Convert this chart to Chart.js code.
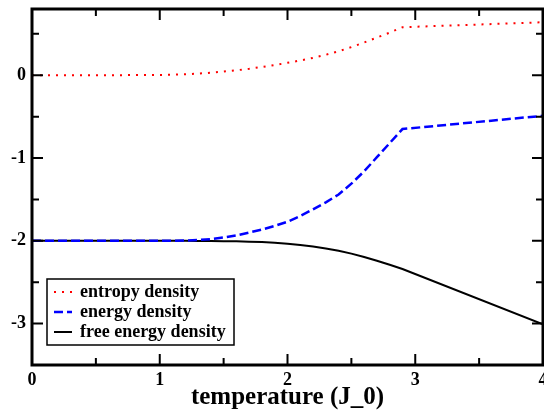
<!DOCTYPE html>
<html lang="en">
<head>
    <meta charset="UTF-8">
    <title>Thermodynamic densities vs temperature</title>
    <style>
        body {
            margin: 0;
            background: #fff;
        }
        canvas {
            display: block;
        }
    </style>
</head>
<body>
    <canvas id="chart" width="544" height="410"></canvas>

    <script src="https://cdn.jsdelivr.net/npm/chart.js"></script>
    <script>
        // Data
        const temps = [0, 0.5, 1.0, 1.1, 1.2, 1.3, 1.4, 1.5, 1.6, 1.7, 1.8, 1.9, 2.0,
                       2.1, 2.2, 2.3, 2.4, 2.5, 2.6, 2.7, 2.8, 2.9, 4.0];
        const entropy = [0, 0, 0.003, 0.006, 0.012, 0.02, 0.03, 0.044, 0.06, 0.078, 0.10, 0.123, 0.15,
                         0.178, 0.21, 0.247, 0.29, 0.34, 0.395, 0.455, 0.515, 0.58, 0.64];
        const energy = [-2, -2, -2, -1.999, -1.997, -1.99, -1.98, -1.96, -1.935, -1.90, -1.865, -1.82, -1.77,
                        -1.70, -1.62, -1.535, -1.44, -1.31, -1.16, -0.99, -0.82, -0.65, -0.49];
        const freeEnergy = [-2, -2, -2, -2, -2, -2.001, -2.002, -2.004, -2.006, -2.01, -2.015, -2.024, -2.035,
                            -2.05, -2.07, -2.093, -2.12, -2.155, -2.195, -2.24, -2.29, -2.34, -3.01];

        const seriesNames = ['entropy density', 'energy density', 'free energy density'];
        const xTicks = [0, 1, 2, 3, 4];
        const xMinor = [0.5, 1.5, 2.5, 3.5];
        const yTicks = [-3, -2, -1, 0];
        const yMinor = [-2.5, -1.5, -0.5, 0.5];

        const FONT = '"Liberation Serif", "DejaVu Serif", serif';

        const toPoints = ys => temps.map((t, i) => ({ x: t, y: ys[i] }));

        // Frame, inward ticks and the legend box
        const framePlugin = {
            id: 'frame',
            afterDraw(chart) {
                const { ctx, chartArea: a, scales } = chart;
                const xs = scales.x, ys = scales.y;
                ctx.save();
                ctx.strokeStyle = '#000';
                ctx.lineWidth = 2;
                const tick = (vals, len) => {
                    vals.forEach(v => {
                        const px = xs.getPixelForValue(v);
                        ctx.beginPath();
                        ctx.moveTo(px, a.bottom); ctx.lineTo(px, a.bottom - len);
                        ctx.moveTo(px, a.top); ctx.lineTo(px, a.top + len);
                        ctx.stroke();
                    });
                };
                const ytick = (vals, len) => {
                    vals.forEach(v => {
                        const py = ys.getPixelForValue(v);
                        ctx.beginPath();
                        ctx.moveTo(a.left, py); ctx.lineTo(a.left + len, py);
                        ctx.moveTo(a.right, py); ctx.lineTo(a.right - len, py);
                        ctx.stroke();
                    });
                };
                tick(xTicks, 11);
                tick(xMinor, 7);
                ytick(yTicks, 11);
                ytick(yMinor, 7);

                ctx.lineWidth = 3;
                ctx.strokeRect(a.left, a.top, a.right - a.left, a.bottom - a.top);

                // legend
                const lx = 47, ly = 279, lw = 187, lh = 66;
                ctx.fillStyle = '#fff';
                ctx.fillRect(lx, ly, lw, lh);
                ctx.lineWidth = 1.5;
                ctx.strokeStyle = '#000';
                ctx.strokeRect(lx, ly, lw, lh);

                ctx.font = 'bold 18px ' + FONT;
                ctx.textBaseline = 'middle';
                ctx.textAlign = 'left';
                chart.data.datasets.forEach((ds, i) => {
                    const yy = ly + 13 + i * 20;
                    ctx.strokeStyle = ds.borderColor;
                    ctx.lineWidth = ds.borderWidth;
                    ctx.setLineDash(ds.borderDash || []);
                    ctx.beginPath();
                    ctx.moveTo(lx + 7, yy);
                    ctx.lineTo(lx + 25, yy);
                    ctx.stroke();
                    ctx.setLineDash([]);
                    ctx.fillStyle = '#000';
                    ctx.fillText(ds.label, lx + 33, yy);
                });
                ctx.restore();
            }
        };

        const ctx = document.getElementById('chart').getContext('2d');
        new Chart(ctx, {
            type: 'line',
            data: {
                datasets: [
                    {
                        label: seriesNames[0],
                        data: toPoints(entropy),
                        borderColor: '#ff0000',
                        borderWidth: 2,
                        borderDash: [2, 6],
                        pointRadius: 0,
                        tension: 0
                    },
                    {
                        label: seriesNames[1],
                        data: toPoints(energy),
                        borderColor: '#0000ff',
                        borderWidth: 2.5,
                        borderDash: [9, 4],
                        pointRadius: 0,
                        tension: 0
                    },
                    {
                        label: seriesNames[2],
                        data: toPoints(freeEnergy),
                        borderColor: '#000000',
                        borderWidth: 2,
                        pointRadius: 0,
                        tension: 0
                    }
                ]
            },
            options: {
                responsive: false,
                animation: false,
                layout: { padding: { top: 9, right: 1, left: 0, bottom: 0 } },
                plugins: {
                    legend: { display: false },
                    tooltip: { enabled: false }
                },
                scales: {
                    x: {
                        type: 'linear',
                        min: 0,
                        max: 4,
                        grid: { display: false, drawTicks: false },
                        border: { display: false },
                        afterBuildTicks: s => { s.ticks = xTicks.map(v => ({ value: v })); },
                        afterFit: s => { s.height = 45; s.paddingLeft = 0; s.paddingRight = 0; },
                        ticks: {
                            padding: 5,
                            color: '#000',
                            maxRotation: 0,
                            autoSkip: false,
                            font: { family: FONT, size: 18, weight: 'bold' }
                        },
                        title: {
                            display: true,
                            text: 'temperature (J_0)',
                            color: '#000',
                            padding: { top: 0, bottom: 0 },
                            font: { family: FONT, size: 25, weight: 'bold', lineHeight: 1 }
                        }
                    },
                    y: {
                        min: -3.5,
                        max: 0.8,
                        grid: { display: false, drawTicks: false },
                        border: { display: false },
                        afterBuildTicks: s => { s.ticks = yTicks.map(v => ({ value: v })); },
                        afterFit: s => { s.width = 32; s.paddingTop = 0; s.paddingBottom = 0; },
                        ticks: {
                            padding: 6,
                            color: '#000',
                            font: { family: FONT, size: 18, weight: 'bold' }
                        }
                    }
                }
            },
            plugins: [framePlugin]
        });
    </script>
</body>
</html>
